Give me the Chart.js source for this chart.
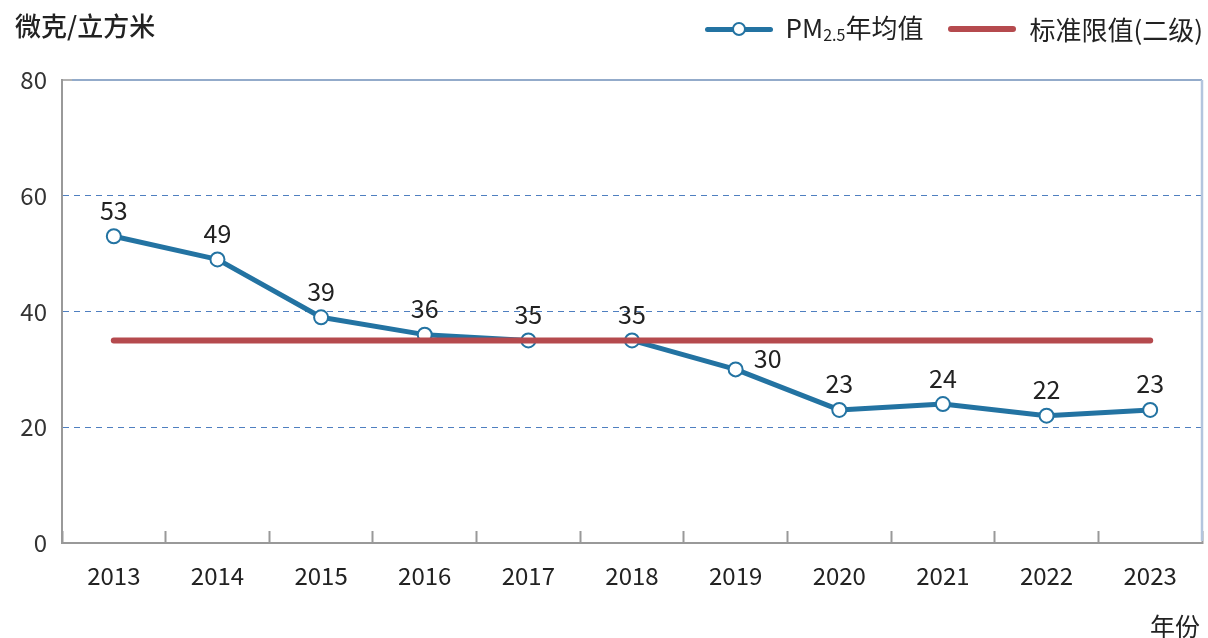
<!DOCTYPE html>
<html><head><meta charset="utf-8">
<script src="https://cdn.jsdelivr.net/npm/chart.js@4/dist/chart.umd.min.js"></script>
<style>
html,body{margin:0;padding:0;background:#fff;overflow:hidden;}
#wrap{position:relative;width:1208px;height:638px;font-family:"Noto Sans CJK SC","Noto Sans",sans-serif;color:#222;overflow:hidden;}
canvas{position:absolute;left:0;top:0;}
#ytitle{position:absolute;left:15px;top:7px;font-size:26px;font-weight:500;color:#222;line-height:36px;white-space:nowrap;}
#xtitle{position:absolute;left:1150px;top:607px;font-size:25px;color:#222;line-height:36px;white-space:nowrap;}
#legend{position:absolute;right:5px;top:9px;display:flex;align-items:center;font-size:26px;color:#222;line-height:36px;white-space:nowrap;}
.li{display:flex;align-items:center;margin-left:25px;flex:none;}
.sw{position:relative;width:68px;height:14px;margin-right:13px;flex:none;}
.sw .ln{position:absolute;left:0;right:0;top:50%;border-radius:3px;}
.sw .pt{position:absolute;left:27px;top:0;width:10px;height:10px;border-radius:50%;background:#fff;}
sub{font-size:16px;vertical-align:baseline;position:relative;top:3px;}
</style></head>
<body><div id="wrap">
<canvas id="c" width="1208" height="638"></canvas>
<div id="ytitle">微克/立方米</div>
<div id="legend"></div>
<div id="xtitle">年份</div>
</div>
<script>
const years = ['2013','2014','2015','2016','2017','2018','2019','2020','2021','2022','2023'];
const pm25 = [53,49,39,36,35,35,30,23,24,22,23];
const standard = [35,35,35,35,35,35,35,35,35,35,35];
const yTicks = [0,20,40,60,80];
const seriesNames = ['PM2.5年均值','标准限值(二级)'];

const BLUE = '#2373A2';
const RED = '#B54A4E';
const FONT = '"Noto Sans CJK SC", "Noto Sans", sans-serif';

const labelPlugin = {
  id: 'pointLabels',
  afterDatasetsDraw(chart, args, opts) {
    const ctx = chart.ctx;
    const meta = chart.getDatasetMeta(0);
    ctx.save();
    ctx.font = '25px ' + FONT;
    ctx.fillStyle = '#222';
    ctx.textAlign = 'center';
    ctx.textBaseline = 'middle';
    meta.data.forEach((pt, i) => {
      const v = chart.data.datasets[0].data[i];
      const side = (opts.side || {})[i] || 'top';
      if (side === 'right') ctx.fillText(String(v), pt.x + 32, pt.y - 11);
      else ctx.fillText(String(v), pt.x, pt.y - 26);
    });
    ctx.restore();
  }
};

const framePlugin = {
  id: 'frame',
  beforeDatasetsDraw(chart) {
    const {ctx, chartArea: a} = chart;
    ctx.save();
    ctx.lineWidth = 1.5;
    ctx.strokeStyle = '#6f8fb8';
    ctx.beginPath(); ctx.moveTo(a.left + 10, a.top); ctx.lineTo(a.right, a.top); ctx.stroke();
    ctx.strokeStyle = '#999';
    ctx.beginPath(); ctx.moveTo(a.left, a.top); ctx.lineTo(a.left + 10, a.top); ctx.stroke();
    ctx.lineWidth = 2.5;
    ctx.strokeStyle = '#b3c5de';
    ctx.beginPath(); ctx.moveTo(a.right, a.top); ctx.lineTo(a.right, a.bottom - 2); ctx.stroke();
    ctx.restore();
  }
};

const chart = new Chart(document.getElementById('c'), {
  type: 'line',
  data: {
    labels: years,
    datasets: [
      {
        label: seriesNames[0], data: pm25, borderColor: BLUE, borderWidth: 5,
        pointRadius: 7, pointHoverRadius: 7, pointBackgroundColor: '#fff', pointBorderColor: BLUE, pointBorderWidth: 2,
        borderJoinStyle: 'round', tension: 0, order: 1
      },
      {
        label: seriesNames[1], data: standard, borderColor: RED, borderWidth: 6,
        pointRadius: 0, borderCapStyle: 'round', tension: 0, order: 0
      }
    ]
  },
  options: {
    responsive: false, animation: false, devicePixelRatio: 1,
    layout: { autoPadding: false, padding: { top: 80, right: 6, left: 0, bottom: 0 } },
    plugins: {
      legend: { display: false }, tooltip: { enabled: false },
      pointLabels: { side: {6: 'right'} }
    },
    scales: {
      x: {
        offset: true,
        grid: { offset: true, drawOnChartArea: false, drawTicks: true, tickLength: -12, color: '#999', tickColor: '#999', tickWidth: 2 },
        border: { display: true, color: '#999', width: 2 },
        ticks: { color: '#222', padding: 30, font: { size: 24, family: FONT }, maxRotation: 0 },
        afterFit(s) { s.height = 95; s.paddingLeft = 0; s.paddingRight = 0; }
      },
      y: {
        min: 0, max: 80,
        afterBuildTicks(s) { s.ticks = yTicks.map(v => ({ value: v })); },
        grid: {
          drawTicks: false,
          color: c => (c.tick && (c.tick.value === 0 || c.tick.value === 80)) ? 'rgba(0,0,0,0)' : '#4f7fc0',
          lineWidth: 1
        },
        border: { display: true, color: '#999', width: 2, dash: [6, 5] },
        ticks: { color: '#333', padding: 15, font: { size: 24, family: FONT } },
        afterFit(s) { s.width = 62; s.paddingTop = 0; s.paddingBottom = 0; }
      }
    }
  },
  plugins: [labelPlugin, framePlugin]
});

// HTML legend built from datasets
const leg = document.getElementById('legend');
chart.data.datasets.forEach((ds, i) => {
  const li = document.createElement('div'); li.className = 'li';
  const sw = document.createElement('div'); sw.className = 'sw';
  const ln = document.createElement('div'); ln.className = 'ln';
  ln.style.background = ds.borderColor; ln.style.height = ds.borderWidth + 'px'; ln.style.marginTop = (-ds.borderWidth / 2) + 'px';
  sw.appendChild(ln);
  if (ds.pointRadius > 0) {
    const pt = document.createElement('div'); pt.className = 'pt';
    pt.style.border = ds.pointBorderWidth + 'px solid ' + ds.pointBorderColor;
    sw.appendChild(pt);
  }
  const tx = document.createElement('span');
  const m = ds.label.match(/^PM(2\.5)(.*)$/);
  if (m) { tx.append('PM'); const sb = document.createElement('sub'); sb.textContent = m[1]; tx.appendChild(sb); tx.append(m[2]); }
  else tx.textContent = ds.label;
  li.appendChild(sw); li.appendChild(tx);
  leg.appendChild(li);
});
</script>
</body></html>
